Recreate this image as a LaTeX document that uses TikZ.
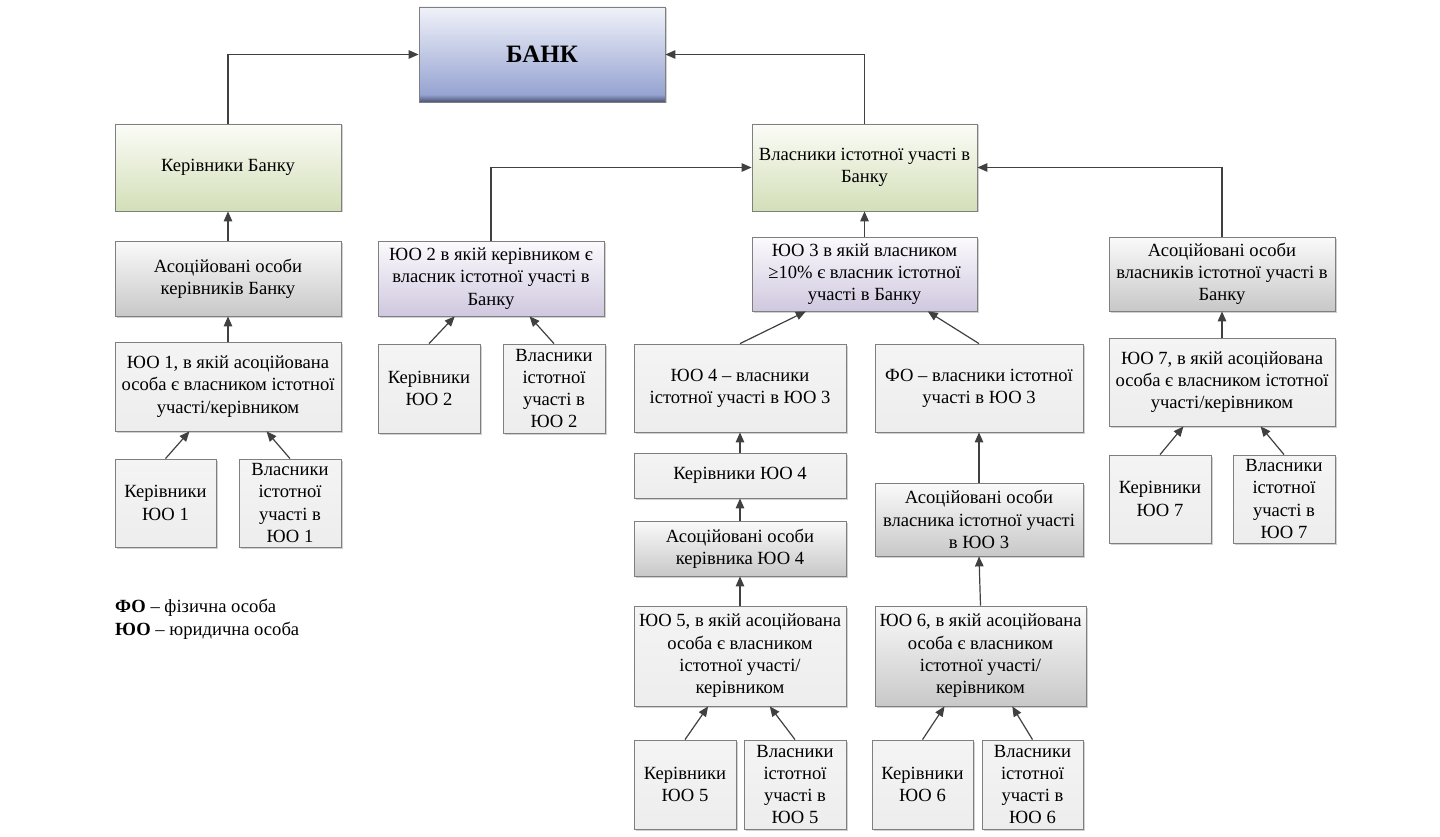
\documentclass[tikz,border=0pt]{standalone}
\usepackage{fontspec}
\setmainfont{Liberation Serif}
\usetikzlibrary{arrows.meta,shadows,calc}
\definecolor{bordc}{HTML}{7F7F7F}
\definecolor{arrc}{HTML}{404040}
\definecolor{bankA}{HTML}{4A5272}
\definecolor{bankB}{HTML}{97A4D2}
\definecolor{bankC}{HTML}{F0F2F9}
\definecolor{greenB}{HTML}{D3DFB8}
\definecolor{greenT}{HTML}{FBFCF7}
\definecolor{purpB}{HTML}{D0C8DF}
\definecolor{purpT}{HTML}{FBFAFD}
\definecolor{grayB}{HTML}{C8C8C8}
\definecolor{grayT}{HTML}{FAFAFA}
\definecolor{lightT}{HTML}{F4F4F4}
\definecolor{lightB}{HTML}{EDEDED}
\pgfdeclareverticalshading{bankshade}{100bp}{color(0bp)=(bankA); color(25bp)=(bankA); color(29bp)=(bankB); color(75bp)=(bankC); color(100bp)=(bankC)}
\tikzset{
  base/.style={draw=bordc, line width=0.8pt, align=center, inner sep=1.5pt,
    font=\fontsize{18.6}{22.3}\selectfont,
    drop shadow={shadow xshift=1.5pt, shadow yshift=-1.5pt, fill=black, opacity=0.18}},
  bankbox/.style={base, shading=bankshade, font=\fontsize{25}{30}\selectfont\bfseries},
  greenbox/.style={base, top color=greenT, bottom color=greenB},
  purpbox/.style={base, top color=purpT, bottom color=purpB},
  graybox/.style={base, top color=grayT, bottom color=grayB},
  lightbox/.style={base, top color=lightT, bottom color=lightB},
  arr/.style={draw=arrc, line width=1.2pt, -{Triangle[length=10pt,width=8.5pt]}},
  legend/.style={anchor=west, inner sep=0pt, font=\fontsize{18.6}{22}\selectfont}
}
\newcommand{\mkbox}[7]{\node[#2, minimum width={#5-#3}, minimum height={#6-#4}] (#1) at ({(#3+#5)/2},{(#4+#6)/2}) {#7};}
\begin{document}
\begin{tikzpicture}[x=1pt,y=-1pt]
\useasboundingbox (0,0) rectangle (1440,837);
% boxes
\mkbox{bank}{bankbox}{419}{7}{665}{102}{БАНК}
\mkbox{kb}{greenbox}{115}{124}{341}{211}{Керівники Банку}
\mkbox{vb}{greenbox}{752}{124}{977}{211}{Власники істотної участі в\\Банку}
\mkbox{ak}{graybox}{115}{241}{341}{316}{Асоційовані особи\\керівників Банку}
\mkbox{yo2}{purpbox}{378}{241}{604}{316}{ЮО 2 в якій керівником є\\власник істотної участі в\\Банку}
\mkbox{yo3}{purpbox}{752}{237}{977}{311}{ЮО 3 в якій власником\\≥10\% є власник істотної\\участі в Банку}
\mkbox{av}{graybox}{1109}{237}{1335}{311}{Асоційовані особи\\власників істотної участі в\\Банку}
\mkbox{yo1}{lightbox}{115}{342}{341}{431}{ЮО 1, в якій асоційована\\особа є власником істотної\\участі/керівником}
\mkbox{k1}{lightbox}{115}{459}{216}{547}{Керівники\\ЮО 1}
\mkbox{v1}{lightbox}{239}{459}{341}{547}{Власники\\істотної\\участі в\\ЮО 1}
\mkbox{k2}{lightbox}{378}{344}{480}{433}{Керівники\\ЮО 2}
\mkbox{v2}{lightbox}{503}{344}{605}{433}{Власники\\істотної\\участі в\\ЮО 2}
\mkbox{yo4}{lightbox}{634}{344}{846}{432}{ЮО 4 – власники\\істотної участі в ЮО 3}
\mkbox{fo}{lightbox}{875}{344}{1083}{432}{ФО – власники істотної\\участі в ЮО 3}
\mkbox{yo7}{lightbox}{1109}{338}{1335}{426}{ЮО 7, в якій асоційована\\особа є власником істотної\\участі/керівником}
\mkbox{k7}{lightbox}{1109}{455}{1211}{543}{Керівники\\ЮО 7}
\mkbox{v7}{lightbox}{1233}{455}{1335}{543}{Власники\\істотної\\участі в\\ЮО 7}
\mkbox{k4}{lightbox}{634}{453}{846}{498}{Керівники ЮО 4}
\mkbox{a4}{graybox}{634}{521}{846}{576}{Асоційовані особи\\керівника ЮО 4}
\mkbox{a3}{graybox}{875}{483}{1083}{556}{Асоційовані особи\\власника істотної участі\\в ЮО 3}
\mkbox{yo5}{lightbox}{634}{606}{846}{706}{ЮО 5, в якій асоційована\\особа є власником\\істотної участі/\\керівником}
\mkbox{yo6}{graybox}{875}{606}{1086}{706}{ЮО 6, в якій асоційована\\особа є власником\\істотної участі/\\керівником}
\mkbox{k5}{lightbox}{634}{740}{736}{829}{Керівники\\ЮО 5}
\mkbox{v5}{lightbox}{744}{740}{846}{829}{Власники\\істотної\\участі в\\ЮО 5}
\mkbox{k6}{lightbox}{872}{740}{973}{829}{Керівники\\ЮО 6}
\mkbox{v6}{lightbox}{982}{740}{1083}{829}{Власники\\істотної\\участі в\\ЮО 6}
% legend
\node[legend] (leg1) at (115,608) {\textbf{ФО} – фізична особа};
\node[legend] (leg2) at (115,631) {\textbf{ЮО} – юридична особа};
% connectors
\draw[arr] (kb.north) |- (bank.west);
\draw[arr] (vb.north) |- (bank.east);
\draw[arr] (ak.north) -- (kb.south);
\draw[arr] (yo2.north) |- (vb.west);
\draw[arr] (av.north) |- (vb.east);
\draw[arr] (yo3.north) -- (vb.south);
\draw[arr] (yo1.north) -- (ak.south);
\draw[arr] (k1.north) -- ($(yo1.south west)!0.33!(yo1.south east)$);
\draw[arr] (v1.north) -- ($(yo1.south west)!0.67!(yo1.south east)$);
\draw[arr] (k2.north) -- ($(yo2.south west)!0.34!(yo2.south east)$);
\draw[arr] (v2.north) -- ($(yo2.south west)!0.67!(yo2.south east)$);
\draw[arr] (yo4.north) -- ($(yo3.south west)!0.24!(yo3.south east)$);
\draw[arr] (fo.north) -- ($(yo3.south west)!0.78!(yo3.south east)$);
\draw[arr] (k4.north) -- (yo4.south);
\draw[arr] (a4.north) -- (k4.south);
\draw[arr] (yo5.north) -- (a4.south);
\draw[arr] (k5.north) -- ($(yo5.south west)!0.35!(yo5.south east)$);
\draw[arr] (v5.north) -- ($(yo5.south west)!0.64!(yo5.south east)$);
\draw[arr] (a3.north) -- (fo.south);
\draw[arr] (yo6.north) -- (a3.south);
\draw[arr] (k6.north) -- ($(yo6.south west)!0.33!(yo6.south east)$);
\draw[arr] (v6.north) -- ($(yo6.south west)!0.65!(yo6.south east)$);
\draw[arr] (yo7.north) -- (av.south);
\draw[arr] (k7.north) -- ($(yo7.south west)!0.33!(yo7.south east)$);
\draw[arr] (v7.north) -- ($(yo7.south west)!0.67!(yo7.south east)$);
\end{tikzpicture}
\end{document}
